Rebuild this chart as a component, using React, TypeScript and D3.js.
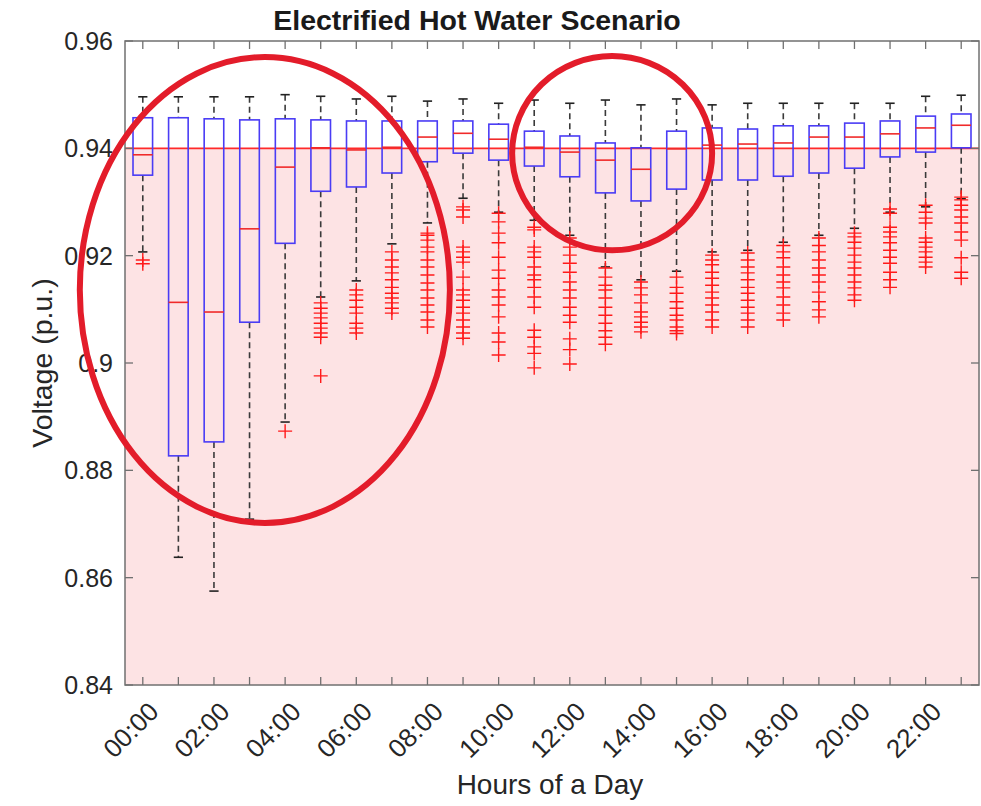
import React from 'react';
import * as d3 from 'd3';

const hourLabels = d3.range(24).map((h) => `${String(h).padStart(2, '0')}:00`);

const upperWhisker = [0.9496, 0.9496, 0.9496, 0.9496, 0.95, 0.9497, 0.9492, 0.9497, 0.9488, 0.9492, 0.9484, 0.949, 0.9484, 0.949, 0.9481, 0.9492, 0.9481, 0.9484, 0.9484, 0.9484, 0.9484, 0.9484, 0.9497, 0.9499];
const q3 = [0.9457, 0.9457, 0.9455, 0.9453, 0.9455, 0.9453, 0.9451, 0.9451, 0.9451, 0.9451, 0.9445, 0.9432, 0.9423, 0.941, 0.9401, 0.9432, 0.9438, 0.9436, 0.9442, 0.9442, 0.9447, 0.9451, 0.946, 0.9464];
const medians = [0.9388, 0.9113, 0.9095, 0.925, 0.9365, 0.9401, 0.9397, 0.9402, 0.9421, 0.9428, 0.9417, 0.9402, 0.9393, 0.9378, 0.9361, 0.9399, 0.9406, 0.9408, 0.941, 0.9421, 0.9421, 0.9427, 0.9438, 0.9443];
const q1 = [0.935, 0.8827, 0.8853, 0.9076, 0.9223, 0.932, 0.9328, 0.9354, 0.9375, 0.9391, 0.9378, 0.9367, 0.9347, 0.9317, 0.9302, 0.9324, 0.9341, 0.9341, 0.9348, 0.9354, 0.9363, 0.9384, 0.9393, 0.9401];
const lowerWhisker = [0.9207, 0.8638, 0.8575, 0.8709, 0.889, 0.9123, 0.9153, 0.9222, 0.9261, 0.9307, 0.9281, 0.9266, 0.9238, 0.9179, 0.9155, 0.9171, 0.9207, 0.921, 0.9225, 0.9238, 0.9251, 0.9281, 0.9291, 0.9306];

const outliers: number[][] = [
  [0.9192, 0.9185],
  [],
  [],
  [],
  [0.8873],
  [0.9112, 0.9102, 0.9093, 0.9084, 0.9074, 0.9065, 0.9056, 0.9048, 0.8976],
  [0.9136, 0.9127, 0.9117, 0.9104, 0.9093, 0.9074, 0.9065, 0.9056],
  [0.9207, 0.9192, 0.9179, 0.9168, 0.9155, 0.9141, 0.913, 0.9121, 0.9112, 0.9102, 0.9093],
  [0.9242, 0.9238, 0.9229, 0.9216, 0.9207, 0.9192, 0.9179, 0.9164, 0.9149, 0.9136, 0.9121, 0.9108, 0.9095, 0.908, 0.9067],
  [0.9291, 0.9285, 0.9272, 0.9216, 0.9207, 0.9197, 0.9188, 0.916, 0.9136, 0.9127, 0.9117, 0.9104, 0.9093, 0.908, 0.9067, 0.9056, 0.9046],
  [0.9279, 0.9263, 0.9242, 0.9224, 0.9197, 0.9173, 0.9158, 0.9136, 0.9123, 0.9108, 0.9086, 0.9056, 0.9039, 0.9015],
  [0.9253, 0.9248, 0.9216, 0.9207, 0.9197, 0.9179, 0.9164, 0.9155, 0.9141, 0.9123, 0.9104, 0.9061, 0.9048, 0.903, 0.9018, 0.8991],
  [0.9233, 0.9216, 0.9201, 0.9186, 0.9169, 0.9151, 0.9136, 0.9121, 0.9104, 0.9089, 0.9076, 0.9045, 0.9025, 0.8998],
  [0.9177, 0.916, 0.9145, 0.9136, 0.9121, 0.9104, 0.9089, 0.9074, 0.906, 0.9048, 0.9035],
  [0.9151, 0.914, 0.9127, 0.9112, 0.9095, 0.9086, 0.9076, 0.9067, 0.9058],
  [0.916, 0.9141, 0.913, 0.9114, 0.9102, 0.9089, 0.908, 0.9067, 0.906, 0.9055],
  [0.9201, 0.9192, 0.9183, 0.9169, 0.9158, 0.9145, 0.9132, 0.9121, 0.9108, 0.9095, 0.908, 0.9067],
  [0.9205, 0.9192, 0.9179, 0.9168, 0.9155, 0.9141, 0.913, 0.9117, 0.9104, 0.9093, 0.908, 0.9067],
  [0.9219, 0.9207, 0.9196, 0.9179, 0.9164, 0.9151, 0.914, 0.9123, 0.9108, 0.9093, 0.908],
  [0.9233, 0.9219, 0.9207, 0.9192, 0.9177, 0.9164, 0.9151, 0.9132, 0.9114, 0.9099, 0.9086],
  [0.9242, 0.9235, 0.9225, 0.9214, 0.9201, 0.9188, 0.9177, 0.9164, 0.9151, 0.914, 0.9127, 0.9117],
  [0.9287, 0.9279, 0.9253, 0.9244, 0.9235, 0.9224, 0.921, 0.9197, 0.9186, 0.9169, 0.9155, 0.9141],
  [0.9294, 0.9281, 0.927, 0.9261, 0.9233, 0.9225, 0.9216, 0.9207, 0.9197, 0.9188, 0.9179],
  [0.9309, 0.9304, 0.9294, 0.9285, 0.9272, 0.9261, 0.9244, 0.9229, 0.9196, 0.9169, 0.9158],
];

const yTicks = [0.84, 0.86, 0.88, 0.9, 0.92, 0.94, 0.96];
const yTickLabels = ['0.84', '0.86', '0.88', '0.9', '0.92', '0.94', '0.96'];
const threshold = 0.94;

// annotation ellipses, in data units (hour index, voltage)
const highlights = [
  { cx: 3.43, cy: 0.9136, rx: 5.2, ry: 0.0434 },
  { cx: 13.19, cy: 0.9391, rx: 2.81, ry: 0.0181 },
];

const W = 981;
const H = 806;
const margin = { top: 41, right: 2, bottom: 121, left: 125 };
const font = '"Liberation Sans", Arial, Helvetica, sans-serif';

const App: React.FC = () => {
  const x = d3.scaleLinear().domain([-0.5, 23.5]).range([margin.left, W - margin.right]);
  const y = d3.scaleLinear().domain([0.84, 0.96]).range([H - margin.bottom, margin.top]);
  const [x0, x1] = x.range();
  const [yb, yt] = y.range();
  const boxW = x(0.275) - x(0);
  const capW = x(0.13) - x(0);
  const plus = 7;
  const axisColor = '#707070';
  const textColor = '#262626';

  return (
    <svg width={W} height={H} style={{ position: 'absolute', left: 0, top: 0, background: '#fff' }}>
      {/* shaded region below the threshold */}
      <rect x={x0} y={y(threshold)} width={x1 - x0} height={yb - y(threshold)} fill="#fde3e4" />
      <line x1={x0} x2={x1} y1={y(threshold)} y2={y(threshold)} stroke="#ff2a2a" strokeWidth={1.6} />

      {hourLabels.map((_, i) => {
        const cx = x(i);
        return (
          <g key={i}>
            {/* whiskers */}
            <line x1={cx} x2={cx} y1={y(upperWhisker[i])} y2={y(q3[i])} stroke="#3a3a3a" strokeWidth={1.6} strokeDasharray="6,4" />
            <line x1={cx} x2={cx} y1={y(q1[i])} y2={y(lowerWhisker[i])} stroke="#3a3a3a" strokeWidth={1.6} strokeDasharray="6,4" />
            <line x1={cx - capW} x2={cx + capW} y1={y(upperWhisker[i])} y2={y(upperWhisker[i])} stroke="#222" strokeWidth={1.6} />
            <line x1={cx - capW} x2={cx + capW} y1={y(lowerWhisker[i])} y2={y(lowerWhisker[i])} stroke="#222" strokeWidth={1.6} />
            {/* box */}
            <rect x={cx - boxW} y={y(q3[i])} width={boxW * 2} height={y(q1[i]) - y(q3[i])} fill="none" stroke="#4a3cf5" strokeWidth={1.6} />
            <line x1={cx - boxW} x2={cx + boxW} y1={y(medians[i])} y2={y(medians[i])} stroke="#f02a2a" strokeWidth={1.6} />
            {/* outliers */}
            {outliers[i].map((v, j) => (
              <path
                key={j}
                d={`M${cx - plus},${y(v)}H${cx + plus}M${cx},${y(v) - plus}V${y(v) + plus}`}
                stroke="#ff1a1a"
                strokeWidth={1.4}
                fill="none"
              />
            ))}
          </g>
        );
      })}

      {/* axes box */}
      <rect x={x0} y={yt} width={x1 - x0} height={yb - yt} fill="none" stroke={axisColor} strokeWidth={1.5} />
      {yTicks.map((t, i) => (
        <g key={t}>
          <line x1={x0} x2={x0 + 8} y1={y(t)} y2={y(t)} stroke={axisColor} strokeWidth={1.3} />
          <line x1={x1} x2={x1 - 8} y1={y(t)} y2={y(t)} stroke={axisColor} strokeWidth={1.3} />
          <text x={x0 - 12} y={y(t)} textAnchor="end" dominantBaseline="central" fontFamily={font} fontSize={25} fill={textColor}>
            {yTickLabels[i]}
          </text>
        </g>
      ))}
      {hourLabels.map((lab, i) => (
        <g key={lab}>
          <line x1={x(i)} x2={x(i)} y1={yb} y2={yb - 8} stroke={axisColor} strokeWidth={1.3} />
          <line x1={x(i)} x2={x(i)} y1={yt} y2={yt + 8} stroke={axisColor} strokeWidth={1.3} />
          {i % 2 === 0 && (
            <text
              transform={`translate(${x(i) + 11},${yb + 22}) rotate(-45)`}
              textAnchor="end"
              dominantBaseline="central"
              fontFamily={font}
              fontSize={26}
              fill={textColor}
            >
              {lab}
            </text>
          )}
        </g>
      ))}

      {/* labels */}
      <text x={(x0 + x1) / 2 - 2} y={794} textAnchor="middle" fontFamily={font} fontSize={28} fill={textColor}>
        Hours of a Day
      </text>
      <text
        transform={`translate(42,${(yt + yb) / 2}) rotate(-90)`}
        textAnchor="middle"
        dominantBaseline="central"
        fontFamily={font}
        fontSize={28.5}
        fill={textColor}
      >
        Voltage (p.u.)
      </text>
      <text x={477} y={30} textAnchor="middle" fontFamily={font} fontSize={28.5} fontWeight="bold" fill="#1a1a1a">
        <tspan fontWeight={900}>Electrified</tspan> Hot Water Scenario
      </text>

      {/* annotation ellipses */}
      {highlights.map((e, i) => (
        <ellipse
          key={i}
          cx={x(e.cx)}
          cy={y(e.cy)}
          rx={x(e.cx + e.rx) - x(e.cx)}
          ry={y(e.cy - e.ry) - y(e.cy)}
          fill="none"
          stroke="#e31c2a"
          strokeWidth={6}
        />
      ))}
    </svg>
  );
};

export default App;
